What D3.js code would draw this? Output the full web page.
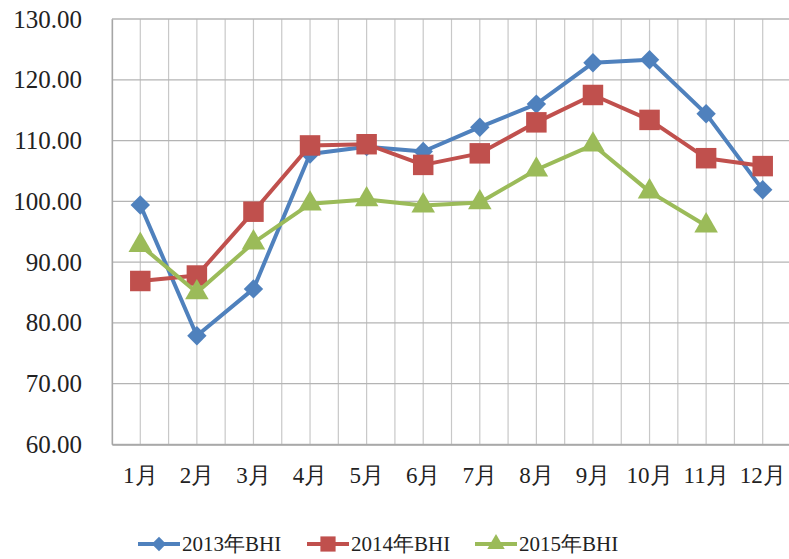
<!DOCTYPE html>
<html>
<head>
<meta charset="utf-8">
<script src="https://cdn.jsdelivr.net/npm/d3@7"></script>
<style>
  body { margin: 0; background: #fff; }
</style>
</head>
<body>
<script>
const months = ['1月', '2月', '3月', '4月', '5月', '6月', '7月', '8月', '9月', '10月', '11月', '12月']
const yTicks = [60, 70, 80, 90, 100, 110, 120, 130]
const seriesNames = ['2013年BHI', '2014年BHI', '2015年BHI']
const bhi2013 = [99.4, 77.9, 85.6, 107.8, 109.0, 108.2, 112.2, 116.0, 122.8, 123.3, 114.4, 101.9]
const bhi2014 = [86.9, 87.8, 98.3, 109.2, 109.4, 106.0, 107.9, 113.0, 117.5, 113.4, 107.1, 105.8]
const bhi2015 = [92.8, 85.0, 93.2, 99.6, 100.3, 99.3, 99.8, 105.2, 109.3, 101.6, 96.0]

const colors = ['#4f81bd', '#c0504d', '#9bbb59']
const shapes = [d3.symbolDiamond2, d3.symbolSquare, d3.symbolTriangle]
const symbolSizes = [240, 420, 240]
const serif = 'Liberation Serif'

const width = 789
const height = 559
const margin = { top: 19, right: -2, bottom: 114.5, left: 112 }

const svg = d3.select('body').append('svg')
  .attr('width', width)
  .attr('height', height)

const x = d3.scaleBand()
  .domain(months)
  .range([margin.left, width - margin.right])

const y = d3.scaleLinear()
  .domain([60, 130])
  .range([height - margin.bottom, margin.top])

// vertical grid: at category boundaries and centers
const grid = svg.append('g')
const vLines = []
months.forEach(m => {
  vLines.push(x(m))
  vLines.push(x(m) + x.bandwidth() / 2)
})
vLines.push(x.range()[1])
grid.selectAll('line.v')
  .data(vLines)
  .join('line')
  .attr('class', 'v')
  .attr('x1', d => d)
  .attr('x2', d => d)
  .attr('y1', y(130))
  .attr('y2', y(60))
  .attr('stroke', '#c8c8c8')
  .attr('stroke-width', 1.2)

grid.selectAll('line.h')
  .data(yTicks)
  .join('line')
  .attr('class', 'h')
  .attr('x1', margin.left)
  .attr('x2', width)
  .attr('y1', d => y(d))
  .attr('y2', d => y(d))
  .attr('stroke', '#b4b4b4')
  .attr('stroke-width', 1.3)

// axes
const yAxis = svg.append('g')
  .attr('transform', `translate(${margin.left},0)`)
  .call(d3.axisLeft(y).tickValues(yTicks).tickFormat(d3.format('.2f')).tickSize(0).tickPadding(30))
  .attr('font-family', serif)
  .attr('font-size', 25)
yAxis.select('.domain').attr('stroke', '#a6a6a6').attr('stroke-width', 1.3)
yAxis.selectAll('text').attr('fill', '#222')

const xAxis = svg.append('g')
  .attr('transform', `translate(0,${y(60)})`)
  .call(d3.axisBottom(x).tickSize(0).tickPadding(22))
  .attr('font-family', serif)
  .attr('font-size', 23)
xAxis.select('.domain').attr('stroke', '#a6a6a6').attr('stroke-width', 1.3)
xAxis.selectAll('text').attr('fill', '#222')

// series
const series = [bhi2013, bhi2014, bhi2015]
const line = d3.line()
  .x((d, i) => x(months[i]) + x.bandwidth() / 2)
  .y(d => y(d))

series.forEach((values, s) => {
  const g = svg.append('g')
  g.append('path')
    .datum(values)
    .attr('fill', 'none')
    .attr('stroke', colors[s])
    .attr('stroke-width', 4)
    .attr('stroke-linejoin', 'round')
    .attr('d', line)
  g.selectAll('path.mark')
    .data(values)
    .join('path')
    .attr('class', 'mark')
    .attr('transform', (d, i) => `translate(${x(months[i]) + x.bandwidth() / 2},${y(d)})`)
    .attr('d', d3.symbol().type(shapes[s]).size(symbolSizes[s]))
    .attr('fill', colors[s])
})

// legend
const legendX = [138, 307, 475]
const legend = svg.append('g')
  .attr('transform', 'translate(0,544)')
  .attr('font-family', serif)
  .attr('font-size', 21)
seriesNames.forEach((name, s) => {
  const item = legend.append('g').attr('transform', `translate(${legendX[s]},0)`)
  item.append('line')
    .attr('x1', 0).attr('x2', 42)
    .attr('stroke', colors[s])
    .attr('stroke-width', 4)
  item.append('path')
    .attr('transform', 'translate(21,0)')
    .attr('d', d3.symbol().type(shapes[s]).size(symbolSizes[s] * 0.55))
    .attr('fill', colors[s])
  item.append('text')
    .attr('x', 44)
    .attr('dy', '0.35em')
    .attr('fill', '#222')
    .text(name)
})
</script>
</body>
</html>
